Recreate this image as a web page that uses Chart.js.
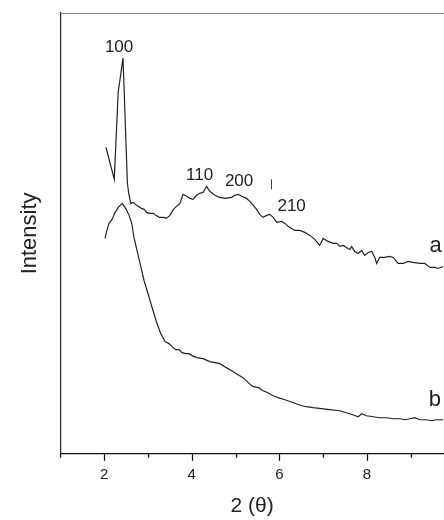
<!DOCTYPE html>
<html lang="en">
<head>
    <meta charset="UTF-8">
    <title>XRD Pattern</title>
    <script src="https://cdn.jsdelivr.net/npm/chart.js"></script>
    <style>
        body {
            margin: 0;
            background: #fff;
        }
        canvas {
            display: block;
        }
    </style>
</head>
<body>
    <canvas id="xrdChart" width="444" height="520"></canvas>

    <script>
        // curve a: 2θ and intensity (arbitrary units)
        const thetaA = [2.04, 2.23, 2.32, 2.43, 2.53, 2.56, 2.61, 2.66, 2.74, 2.78, 2.85, 2.91, 2.97, 3.04, 3.12, 3.18, 3.26, 3.35, 3.42, 3.50,
            3.58, 3.65, 3.73, 3.80, 3.88, 3.96, 4.03, 4.11, 4.18, 4.26, 4.34, 4.41, 4.53, 4.64, 4.76, 4.91, 4.98, 5.06, 5.14, 5.25,
            5.37, 5.48, 5.55, 5.63, 5.71, 5.78, 5.86, 5.94, 6.05, 6.13, 6.20, 6.28, 6.35, 6.47, 6.58, 6.70, 6.81, 6.92, 7.00, 7.11,
            7.23, 7.31, 7.38, 7.46, 7.53, 7.61, 7.65, 7.72, 7.80, 7.88, 7.95, 8.03, 8.11, 8.18, 8.22, 8.29, 8.41, 8.52, 8.60, 8.71,
            8.83, 8.94, 9.05, 9.21, 9.32, 9.44, 9.55, 9.63, 9.74];
        const intensityA = [306, 274, 361, 395, 270, 260, 250, 251, 248, 247, 245, 244, 241, 240, 240, 238, 236, 236, 235, 238,
            244, 247, 250, 259, 257, 255, 254, 258, 260, 261, 267, 262, 258, 256, 255, 256, 258, 259, 257, 255,
            250, 244, 239, 236, 238, 239, 236, 231, 232, 230, 227, 225, 223, 223, 221, 218, 214, 208, 215, 212,
            210, 210, 207, 208, 206, 204, 207, 202, 200, 203, 198, 201, 202, 196, 190, 196, 196, 197, 196, 190,
            190, 192, 191, 190, 190, 186, 186, 185, 187];

        // curve b
        const thetaB = [2.02, 2.05, 2.11, 2.18, 2.24, 2.32, 2.41, 2.49, 2.56, 2.63, 2.68, 2.76, 2.84, 2.91, 3.00, 3.10, 3.20, 3.29, 3.39, 3.48,
            3.55, 3.63, 3.71, 3.78, 3.86, 3.93, 4.01, 4.11, 4.26, 4.41, 4.53, 4.64, 4.79, 4.91, 5.02, 5.17, 5.29, 5.40, 5.52, 5.63,
            5.74, 5.86, 5.97, 6.13, 6.32, 6.51, 6.62, 6.77, 6.96, 7.15, 7.38, 7.53, 7.68, 7.80, 7.88, 7.99, 8.14, 8.29, 8.45, 8.60,
            8.75, 8.87, 8.98, 9.09, 9.21, 9.36, 9.47, 9.59, 9.74];
        const intensityB = [215, 221, 230, 234, 240, 246, 250, 245, 239, 230, 216, 201, 186, 173, 160, 145, 131, 120, 112, 110,
            107, 104, 104, 101, 100, 100, 98, 96, 95, 92, 91, 90, 86, 83, 80, 76, 71, 67, 66, 63,
            61, 58, 56, 54, 51, 48, 47, 46, 45, 44, 43, 41, 39, 37, 40, 38, 37, 36, 36, 35,
            35, 34, 35, 36, 34, 34, 33, 34, 34];

        // peak and curve labels, in data units
        const peakLabels = ["100", "110", "200", "210", "a", "b"];
        const peakLabelX = [2.34, 4.18, 5.08, 6.28, 9.57, 9.55];
        const peakLabelY = [406, 278, 272, 247, 207, 54];

        const xTickValues = [1, 2, 3, 4, 5, 6, 7, 8, 9];
        const xLabeled = [2, 4, 6, 8];

        function toPoints(xs, ys) {
            return xs.map((v, i) => ({ x: v, y: ys[i] }));
        }

        const textColor = "#222";

        const extrasPlugin = {
            id: "extras",
            afterDraw(chart) {
                const ctx = chart.ctx;
                const x = chart.scales.x;
                const y = chart.scales.y;
                const area = chart.chartArea;

                ctx.save();
                // top frame line
                ctx.strokeStyle = "#888";
                ctx.lineWidth = 1;
                ctx.beginPath();
                ctx.moveTo(area.left, area.top + 0.5);
                ctx.lineTo(area.right, area.top + 0.5);
                ctx.stroke();

                // x tick marks, long on labelled values
                ctx.strokeStyle = "#111";
                ctx.lineWidth = 1.2;
                xTickValues.forEach(v => {
                    const px = Math.round(x.getPixelForValue(v)) + 0.5;
                    const len = xLabeled.includes(v) ? 7 : 4;
                    ctx.beginPath();
                    ctx.moveTo(px, area.bottom);
                    ctx.lineTo(px, area.bottom + len);
                    ctx.stroke();
                });

                // labels on the curves
                ctx.fillStyle = textColor;
                ctx.textAlign = "center";
                ctx.textBaseline = "middle";
                peakLabels.forEach((t, i) => {
                    const big = t.length === 1;
                    ctx.font = (big ? "22px" : "17px") + " 'Liberation Sans', Arial, sans-serif";
                    ctx.fillText(t, x.getPixelForValue(peakLabelX[i]), y.getPixelForValue(peakLabelY[i]));
                });

                // small marker near 200 peak
                const mx = Math.round(x.getPixelForValue(5.8)) + 0.5;
                ctx.strokeStyle = "#444";
                ctx.lineWidth = 1;
                ctx.beginPath();
                ctx.moveTo(mx, y.getPixelForValue(274));
                ctx.lineTo(mx, y.getPixelForValue(264));
                ctx.stroke();
                ctx.restore();
            }
        };

        const ctx = document.getElementById("xrdChart").getContext("2d");
        new Chart(ctx, {
            type: "line",
            data: {
                datasets: [
                    {
                        label: "a",
                        data: toPoints(thetaA, intensityA),
                        borderColor: textColor,
                        borderWidth: 1.2,
                        pointRadius: 0,
                        tension: 0,
                        fill: false
                    },
                    {
                        label: "b",
                        data: toPoints(thetaB, intensityB),
                        borderColor: textColor,
                        borderWidth: 1.2,
                        pointRadius: 0,
                        tension: 0,
                        fill: false
                    }
                ]
            },
            options: {
                responsive: false,
                animation: false,
                layout: {
                    padding: { top: 13, right: 0, bottom: 1, left: 8 }
                },
                plugins: {
                    legend: { display: false },
                    tooltip: { enabled: false }
                },
                scales: {
                    x: {
                        type: "linear",
                        min: 1,
                        max: 9.76,
                        border: { color: "#111", width: 1.2 },
                        grid: { display: false, drawTicks: false },
                        afterBuildTicks: axis => {
                            axis.ticks = xLabeled.map(v => ({ value: v }));
                        },
                        ticks: {
                            padding: 12,
                            color: textColor,
                            font: { family: "'Liberation Sans', Arial, sans-serif", size: 15 }
                        },
                        title: {
                            display: true,
                            text: "2 (θ)",
                            color: textColor,
                            padding: { top: -2, bottom: 0 },
                            font: { family: "'Liberation Sans', Arial, sans-serif", size: 21 }
                        }
                    },
                    y: {
                        min: 0,
                        max: 440,
                        border: { color: "#222", width: 1.2 },
                        grid: { display: false, drawTicks: false },
                        ticks: { display: false },
                        title: {
                            display: true,
                            text: "Intensity",
                            color: textColor,
                            padding: { top: 9, bottom: 17 },
                            font: { family: "'Liberation Sans', Arial, sans-serif", size: 22 }
                        }
                    }
                }
            },
            plugins: [extrasPlugin]
        });
    </script>
</body>
</html>
